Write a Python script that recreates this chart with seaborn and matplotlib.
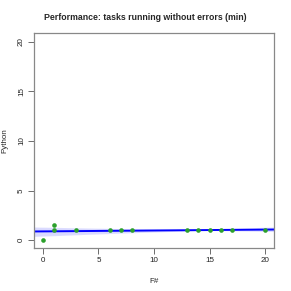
import numpy as np
import pandas as pd
import matplotlib
matplotlib.use("Agg")
import matplotlib.pyplot as plt
import seaborn as sns

# ==== data ====
f_num = [0, 1, 1, 3, 6, 7, 8, 13, 14, 15, 16, 17, 20]
python_min = [0, 1, 1.5, 1, 1, 1, 1, 1, 1, 1, 1, 1, 1]
x_ticks = [0, 5, 10, 15, 20]
y_ticks = [0, 5, 10, 15, 20]

df = pd.DataFrame({"F#": f_num, "Python": python_min})

sns.set_style("ticks")
plt.rcParams['font.family'] = ['Liberation Sans', 'DejaVu Sans']

fig = plt.figure(figsize=(2.91, 2.91), dpi=100)
ax = fig.add_axes([34 / 291, 43 / 291, 240 / 291, 215 / 291])
ax.set_xlim(-0.8, 20.8)
ax.set_ylim(-0.8, 20.9)

sns.regplot(data=df, x="F#", y="Python", ax=ax, truncate=False,
            scatter_kws={"color": "#2ca02c", "s": 11, "linewidths": 0, "alpha": 1, "zorder": 3},
            line_kws={"color": "#0000ff", "linewidth": 1.4})
ax.set_xlim(-0.8, 20.8)
ax.set_ylim(-0.8, 20.9)

ax.set_xticks(x_ticks)
ax.set_yticks(y_ticks)
ax.tick_params(axis="both", direction="out", length=4, width=0.6,
               color="#555555", labelsize=5.8, labelcolor="#222222", pad=2.5)
for lab in ax.get_yticklabels():
    lab.set_rotation(90)
    lab.set_va("center")
for sp in ax.spines.values():
    sp.set_visible(True)
    sp.set_color("#888888")
    sp.set_linewidth(0.9)

ax.set_xlabel("F#", fontsize=5.8)
ax.set_ylabel("Python", fontsize=5.8)
ax.xaxis.set_label_coords(0.5, -0.14)
ax.yaxis.set_label_coords(-0.105, 0.5)
fig.text(0.5, 1 - 17 / 291, "Performance: tasks running without errors (min)",
         ha="center", va="center", fontsize=6.3, fontweight="bold")

fig.savefig("out.png", dpi=100)
